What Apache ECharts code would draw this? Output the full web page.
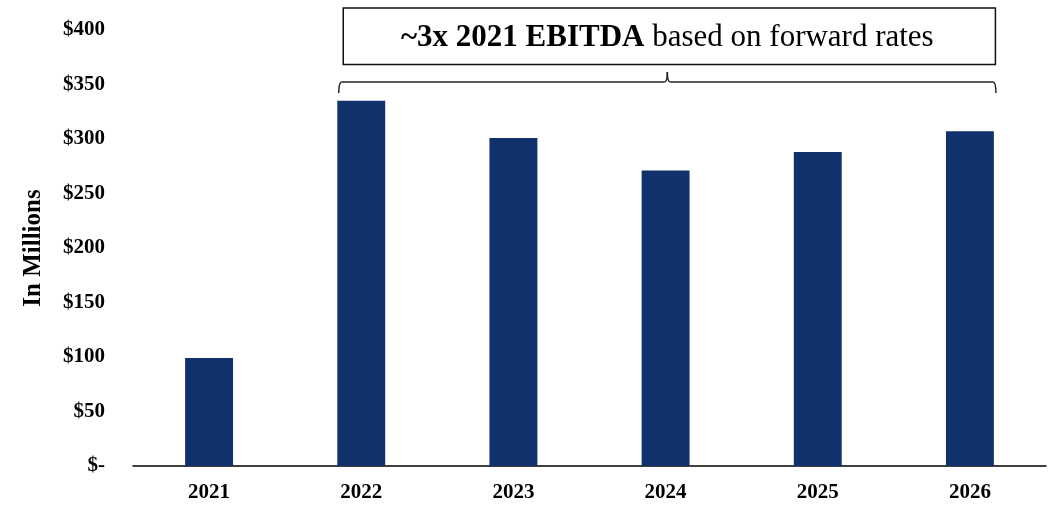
<!DOCTYPE html>
<html><head><meta charset="utf-8">
<script src="https://cdn.jsdelivr.net/npm/echarts@6/dist/echarts.min.js"></script>
<style>html,body{margin:0;padding:0;background:#fff}#c{width:1056px;height:508px}</style>
</head><body><div id="c"></div>
<script>
const categories = ['2021','2022','2023','2024','2025','2026'];
const values = [99, 335, 301, 271, 288, 307];
const yTicks = [0,50,100,150,200,250,300,350,400];
const axisTitle = 'In Millions';
const noteBold = '~3x 2021 EBITDA';
const noteRest = ' based on forward rates';
const FONT = '"Liberation Serif", "Times New Roman", serif';

const chart = echarts.init(document.getElementById('c'));
chart.setOption({
  animation: false,
  grid: {left: 133, right: 10, top: 30, bottom: 42},
  xAxis: {
    type: 'category', data: categories,
    axisLine: {lineStyle: {color: '#000', width: 1.5}},
    axisTick: {show: false},
    axisLabel: {color: '#000', fontFamily: FONT, fontWeight: 'bold', fontSize: 21, margin: 16}
  },
  yAxis: {
    type: 'value', min: yTicks[0], max: yTicks[yTicks.length - 1], interval: yTicks[1] - yTicks[0],
    name: axisTitle, nameLocation: 'middle', nameGap: 87, nameRotate: 90,
    nameTextStyle: {color: '#000', fontFamily: FONT, fontWeight: 'bold', fontSize: 25},
    splitLine: {show: false}, axisLine: {show: false}, axisTick: {show: false},
    axisLabel: {color: '#000', fontFamily: FONT, fontWeight: 'bold', fontSize: 21, margin: 28,
      formatter: v => v === 0 ? '$-' : '$' + v}
  },
  series: [{type: 'bar', data: values, barWidth: '31.5%', itemStyle: {color: '#10316b'}}]
});

function drawNote() {
  const bw = 48;
  const x1 = chart.convertToPixel({xAxisIndex: 0}, categories[1]) - bw / 2 + 1.5;
  const x2 = chart.convertToPixel({xAxisIndex: 0}, categories[categories.length - 1]) + bw / 2 + 2;
  const mid = (x1 + x2) / 2;
  const yl = 82, yEnd = 93, yTip = 72, r = 3;
  const st = {stroke: '#222', lineWidth: 1.5, fill: null};
  chart.setOption({graphic: [
    {type: 'rect', shape: {x: x1 + 4.5, y: 8, width: x2 - x1 - 5, height: 56.5}, style: {fill: '#fff', stroke: '#111', lineWidth: 1.5}},
    {type: 'bezierCurve', shape: {x1: x1, y1: yEnd, cpx1: x1, cpy1: yl, x2: x1 + r, y2: yl}, style: st},
    {type: 'line', shape: {x1: x1 + r, y1: yl, x2: mid - r, y2: yl}, style: st},
    {type: 'bezierCurve', shape: {x1: mid - r, y1: yl, cpx1: mid, cpy1: yl, x2: mid, y2: yTip}, style: st},
    {type: 'bezierCurve', shape: {x1: mid, y1: yTip, cpx1: mid, cpy1: yl, x2: mid + r, y2: yl}, style: st},
    {type: 'line', shape: {x1: mid + r, y1: yl, x2: x2 - r, y2: yl}, style: st},
    {type: 'bezierCurve', shape: {x1: x2 - r, y1: yl, cpx1: x2, cpy1: yl, x2: x2, y2: yEnd}, style: st},
    {type: 'text', x: mid, y: 38, style: {
      text: '{b|' + noteBold + '}{n|' + noteRest + '}', align: 'center', verticalAlign: 'middle',
      rich: {b: {fontFamily: FONT, fontWeight: 'bold', fontSize: 31, fill: '#000'},
             n: {fontFamily: FONT, fontSize: 31, fill: '#000'}}}}
  ]});
}
drawNote();
</script></body></html>
